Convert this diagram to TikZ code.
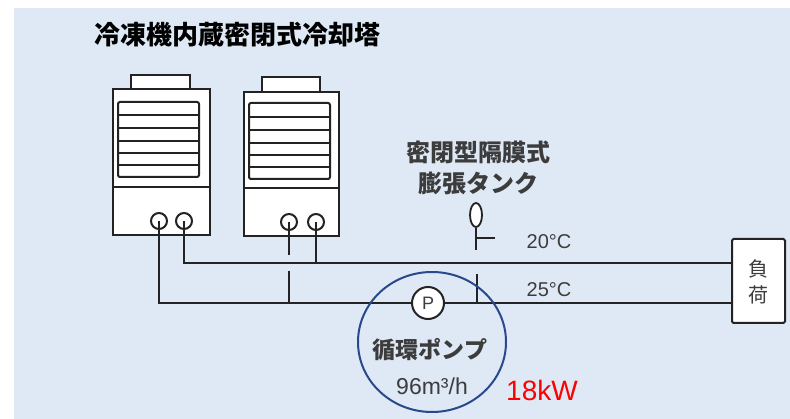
\documentclass[tikz,border=0pt]{standalone}
\usepackage{fontspec}
\usetikzlibrary{shapes.geometric}
\newfontfamily\jp{Noto Sans CJK JP}
\newfontfamily\arl{Liberation Sans}
\definecolor{bgblue}{RGB}{222,233,245}
\definecolor{ink}{RGB}{35,35,35}
\definecolor{labelgray}{RGB}{60,60,60}
\definecolor{ringblue}{RGB}{42,72,140}
\tikzset{
  unitline/.style={draw=ink, line width=2pt, fill=white},
  grillbar/.style={draw=ink, line width=1.8pt},
  pipe/.style={draw=ink, line width=2pt},
  port/.style={circle, draw=ink, line width=2pt, fill=white, minimum size=16pt, inner sep=0pt},
  jplabel/.style={font=\jp\bfseries\fontsize{24}{26}\selectfont, text=labelgray, inner sep=0pt},
  numlabel/.style={font=\arl\fontsize{20}{22}\selectfont, text=labelgray, inner sep=0pt},
}
\begin{document}
\begin{tikzpicture}[x=1pt,y=-1pt]
\useasboundingbox (0,0) rectangle (790,419);
\fill[bgblue] (14,8) rectangle (790,419);

% title
\node[font=\jp\bfseries\fontsize{26}{28}\selectfont, text=black, inner sep=0pt] (title) at (237,35) {冷凍機内蔵密閉式冷却塔};

% cooling tower unit 1
\draw[unitline] (131,75) rectangle (190,89);
\draw[unitline] (113,89) rectangle (210,235);
\draw[unitline, rounded corners=2pt] (118,102) rectangle (199,177);
\foreach \yy in {115,128,141,153,165} \draw[grillbar] (118,\yy) -- (199,\yy);
\draw[grillbar] (113,187) -- (210,187);
\node[port] (u1a) at (159,221) {};
\node[port] (u1b) at (184,221) {};

% cooling tower unit 2
\draw[unitline] (262,77) rectangle (320,92);
\draw[unitline] (244,92) rectangle (339,236);
\draw[unitline, rounded corners=2pt] (249,103) rectangle (330,179);
\foreach \yy in {117,130,143,155,167} \draw[grillbar] (249,\yy) -- (330,\yy);
\draw[grillbar] (244,188) -- (339,188);
\node[port] (u2a) at (289,222) {};
\node[port] (u2b) at (316,222) {};

% load
\node[draw=ink, line width=2pt, fill=white, rounded corners=1.5pt, minimum width=53pt, minimum height=84pt, inner sep=0pt] (load) at (758.5,281) {};
\node[jplabel, font=\jp\fontsize{20}{22}\selectfont] (loadA) at (758,269) {負};
\node[jplabel, font=\jp\fontsize{20}{22}\selectfont] (loadB) at (758,295) {荷};

% supply and return pipes
\coordinate (sup1) at (184,263);
\coordinate (sup2) at (316,263);
\coordinate (ret1) at (159,303);
\coordinate (supL) at (load.west |- sup1);
\coordinate (retL) at (load.west |- ret1);
\draw[pipe] (u1b.center) -- (sup1) -- (supL);
\draw[pipe] (u2b.center) -- (sup2);
\draw[pipe] (u1a.center) -- (ret1) -- (retL);
\coordinate (u2stub) at (289,255);
\draw[pipe] (u2a.center) -- (u2stub);
\coordinate (retstubA) at (289,271);
\coordinate (retstubB) at (289,303);
\draw[pipe] (retstubA) -- (retstubB);
\coordinate (tankstubA) at (477,274);
\coordinate (tankstubB) at (477,303);
\draw[pipe] (tankstubA) -- (tankstubB);

% expansion tank
\node[ellipse, draw=ink, line width=1.8pt, fill=white, minimum width=12pt, minimum height=24pt, inner sep=0pt] (tank) at (476,215) {};
\coordinate (tankfoot) at (476,250);
\coordinate (tanktap) at (495,238);
\draw[pipe] (tank.south) -- (tankfoot);
\draw[pipe] (tank.south |- tanktap) -- (tanktap);
\node[jplabel] (tankA) at (478,152) {密閉型隔膜式};
\node[jplabel] (tankB) at (478,183) {膨張タンク};

% temperatures
\node[numlabel] (t20) at (549,242) {20°C};
\node[numlabel] (t25) at (549,290) {25°C};

% circulation pump
\draw[draw=ringblue, line width=2pt] (432,342) ellipse [x radius=74, y radius=70];
\node[circle, draw=ink, line width=2pt, fill=white, minimum size=32pt, inner sep=0pt, font=\arl\fontsize{18}{20}\selectfont, text=labelgray] (pump) at (428,303) {P};
\node[jplabel, font=\jp\bfseries\fontsize{23}{25}\selectfont] (pumpA) at (430,350) {循環ポンプ};
\node[numlabel, font=\arl\fontsize{23}{25}\selectfont] (pumpB) at (432,386) {96m³/h};
\node[font=\arl\fontsize{28}{30}\selectfont, text=red, inner sep=0pt] (kw) at (542,390) {18kW};
\end{tikzpicture}
\end{document}
